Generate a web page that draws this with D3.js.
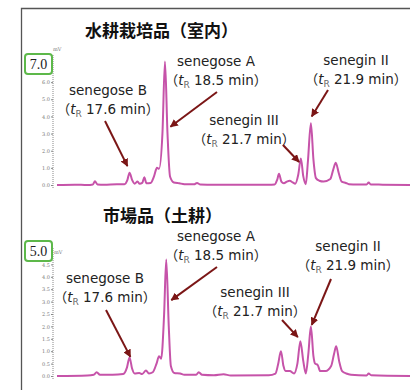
<!DOCTYPE html>
<html><head><meta charset="utf-8">
<script src="https://cdn.jsdelivr.net/npm/d3@7"></script>
<style>body{margin:0;background:#fff}</style>
</head><body><svg id="c" width="410" height="390"></svg>
<script>
// ---- data ----
const titles = ["水耕栽培品（室内）", "市場品（土耕）"];
const peakNames = ["senegose B", "senegose A", "senegin III", "senegin II"];
const peakTimes = [17.6, 18.5, 21.7, 21.9];
const yMaxLabels = ["7.0", "5.0"];
const yDomains = [7.0, 5.0];
const ticksTop = [0, 1, 2, 3, 4, 5, 6];
const ticksBottom = [0, 0.5, 1, 1.5, 2, 2.5, 3, 3.5, 4, 4.5];

const timeTop  = [15.88,16.3,16.6,16.73,16.78,16.84,17.0,17.3,17.48,17.55,17.6,17.66,17.72,17.79,17.84,17.9,17.95,18.0,18.1,18.18,18.25,18.3,18.38,18.44,18.5,18.56,18.65,18.78,18.9,19.13,19.2,19.28,19.6,20.3,20.9,21.04,21.1,21.144,21.2,21.26,21.33,21.4,21.47,21.53,21.6,21.663,21.72,21.78,21.83,21.9,21.96,22.02,22.1,22.2,22.36,22.43,22.49,22.56,22.63,22.73,22.8,23.0,23.22,23.27,23.32,23.6,24.25];
const valueTop = [0.0,0.02,0.0,0.03,0.22,0.03,0.02,0.05,0.05,0.3,0.72,0.3,0.08,0.2,0.07,0.12,0.45,0.1,0.12,0.5,1.0,0.95,3.0,7.2,3.0,0.5,0.15,0.1,0.05,0.04,0.12,0.03,0.02,0.02,0.02,0.03,0.3,0.65,0.2,0.1,0.2,0.25,0.15,0.08,0.6,1.55,0.5,0.05,1.4,3.6,1.5,0.4,0.25,0.2,0.35,0.9,1.3,0.7,0.2,0.12,0.05,0.03,0.03,0.15,0.03,0.02,0.0];

const timeBottom  = [15.88,16.6,16.75,16.82,16.9,17.2,17.45,17.54,17.6,17.66,17.72,17.83,17.9,17.99,18.06,18.15,18.24,18.3,18.35,18.42,18.47,18.53,18.58,18.66,18.8,18.9,19.18,19.24,19.32,19.6,19.83,20.0,20.9,21.06,21.12,21.19,21.25,21.3,21.4,21.5,21.58,21.65,21.72,21.78,21.84,21.9,21.96,22.0,22.06,22.12,22.25,22.38,22.45,22.5,22.57,22.64,22.74,22.85,23.22,23.27,23.33,24.25];
const valueBottom = [0.0,0.02,0.05,0.15,0.05,0.05,0.08,0.35,0.75,0.3,0.1,0.12,0.08,0.22,0.1,0.15,0.5,0.8,0.7,2.5,4.7,2.0,0.4,0.12,0.1,0.05,0.05,0.15,0.05,0.03,0.07,0.02,0.03,0.1,0.45,1.0,0.4,0.2,0.2,0.1,0.5,1.4,0.6,0.1,0.9,2.0,0.8,0.5,0.45,0.2,0.2,0.4,0.9,1.2,0.6,0.2,0.1,0.05,0.02,0.1,0.03,0.0];

// arrow tips in data coordinates
const arrowTimeTop = [17.55, 18.57, 21.62, 21.92];
const arrowValueTop = [1.1, 3.4, 1.34, 4.0];
const arrowTimeBottom = [17.62, 18.59, 21.59, 21.92];
const arrowValueBottom = [0.77, 3.06, 1.57, 2.06];

// ---- layout ----
const W = 410, H = 390;
const traceColor = "#c653a9", arrowColor = "#7b1616";
const panels = [
  {y0: 185, y1: 65, axisTop: 55, axisBot: 189, titleX: 85, titleY: 37, boxY: 54, mvY: 51, mvX: 53,
   labels: [[108, 95], [216, 66], [244, 125], [356, 65]],
   starts: [[105, 121], [217, 92], [283, 145], [328, 90]],
   times: timeTop, values: valueTop, ticks: ticksTop, at: arrowTimeTop, av: arrowValueTop},
  {y0: 376, y1: 252, axisTop: 248, axisBot: 380, titleX: 103, titleY: 222, boxY: 241, mvY: 254, mvX: 54,
   labels: [[105, 283], [216, 241], [255, 297], [348, 251]],
   starts: [[106, 310], [217, 267], [282, 320], [331, 279]],
   times: timeBottom, values: valueBottom, ticks: ticksBottom, at: arrowTimeBottom, av: arrowValueBottom}
];

const svg = d3.select("#c");
svg.append("rect").attr("width", W).attr("height", H).attr("fill", "#fff");
svg.append("defs").append("marker")
  .attr("id", "ah").attr("viewBox", "0 0 10 10").attr("refX", 9).attr("refY", 5)
  .attr("markerWidth", 8).attr("markerHeight", 8).attr("markerUnits", "userSpaceOnUse")
  .attr("orient", "auto")
  .append("path").attr("d", "M0,0 L10,5 L0,10 Z").attr("fill", arrowColor);

// frame
svg.append("path").attr("d", `M21.5,${H} V8.5 H${W}`).attr("fill", "none")
  .attr("stroke", "#555").attr("stroke-width", 1.3);

const x = d3.scaleLinear().domain([15.88, 24.25]).range([57, 410]);

panels.forEach((p, i) => {
  const y = d3.scaleLinear().domain([0, yDomains[i]]).range([p.y0, p.y1]);
  const g = svg.append("g");

  // title
  g.append("text").attr("x", p.titleX).attr("y", p.titleY)
    .attr("font-family", "'Noto Sans CJK JP'").attr("font-weight", 700)
    .attr("font-size", 17).attr("fill", "#111").text(titles[i]);

  // axis
  g.append("line").attr("x1", 53).attr("x2", 53).attr("y1", p.axisTop).attr("y2", p.axisBot)
    .attr("stroke", "#888").attr("stroke-width", 1).attr("stroke-dasharray", "1,1");
  const ax = g.append("g").attr("transform", "translate(53,0)")
    .call(d3.axisLeft(y).tickValues(p.ticks).tickSize(2).tickPadding(1).tickFormat(d3.format(".1f")));
  ax.select(".domain").remove();
  ax.selectAll("line").attr("stroke", "#888");
  ax.selectAll("text").attr("font-size", 5).attr("fill", "#777").attr("font-family", "'DejaVu Serif'");
  g.append("text").attr("x", p.mvX).attr("y", p.mvY).attr("font-size", 5)
    .attr("font-family", "'DejaVu Serif'").attr("fill", "#777").text("mV");

  // max label box
  g.append("rect").attr("x", 25).attr("y", p.boxY).attr("width", 27).attr("height", 20)
    .attr("rx", 3).attr("fill", "#fff").attr("stroke", "#5db84a").attr("stroke-width", 2);
  g.append("text").attr("x", 38.5).attr("y", p.boxY + 15).attr("text-anchor", "middle")
    .attr("font-family", "'Liberation Serif'").attr("font-size", 14).attr("fill", "#222")
    .text(yMaxLabels[i]);

  // trace
  const pts = p.times.map((t, k) => [t, p.values[k]]);
  g.append("path").datum(pts)
    .attr("d", d3.line().x(d => x(d[0])).y(d => y(d[1])).curve(d3.curveMonotoneX))
    .attr("fill", "none").attr("stroke", traceColor).attr("stroke-width", 2);

  // annotations
  peakNames.forEach((name, k) => {
    const [lx, ly] = p.labels[k];
    g.append("text").attr("x", lx).attr("y", ly).attr("text-anchor", "middle")
      .attr("font-family", "'DejaVu Sans'").attr("font-size", 13.5).attr("fill", "#222").text(name);
    const t2 = g.append("text").attr("x", lx).attr("y", ly + 18.5).attr("text-anchor", "middle")
      .attr("font-family", "'DejaVu Sans'").attr("font-size", 13.5).attr("fill", "#222");
    t2.append("tspan").attr("font-family", "'Noto Sans CJK JP'").text("（");
    t2.append("tspan").attr("font-style", "italic").text("t");
    t2.append("tspan").attr("font-size", 9).attr("dy", 3).attr("fill", "#666").text("R");
    t2.append("tspan").attr("dy", -3).text(" " + peakTimes[k].toFixed(1) + " min");
    t2.append("tspan").attr("font-family", "'Noto Sans CJK JP'").text("）");
    const [sx, sy] = p.starts[k];
    g.append("line").attr("x1", sx).attr("y1", sy)
      .attr("x2", x(p.at[k])).attr("y2", y(p.av[k]))
      .attr("stroke", arrowColor).attr("stroke-width", 2).attr("marker-end", "url(#ah)");
  });
});
</script></body></html>
